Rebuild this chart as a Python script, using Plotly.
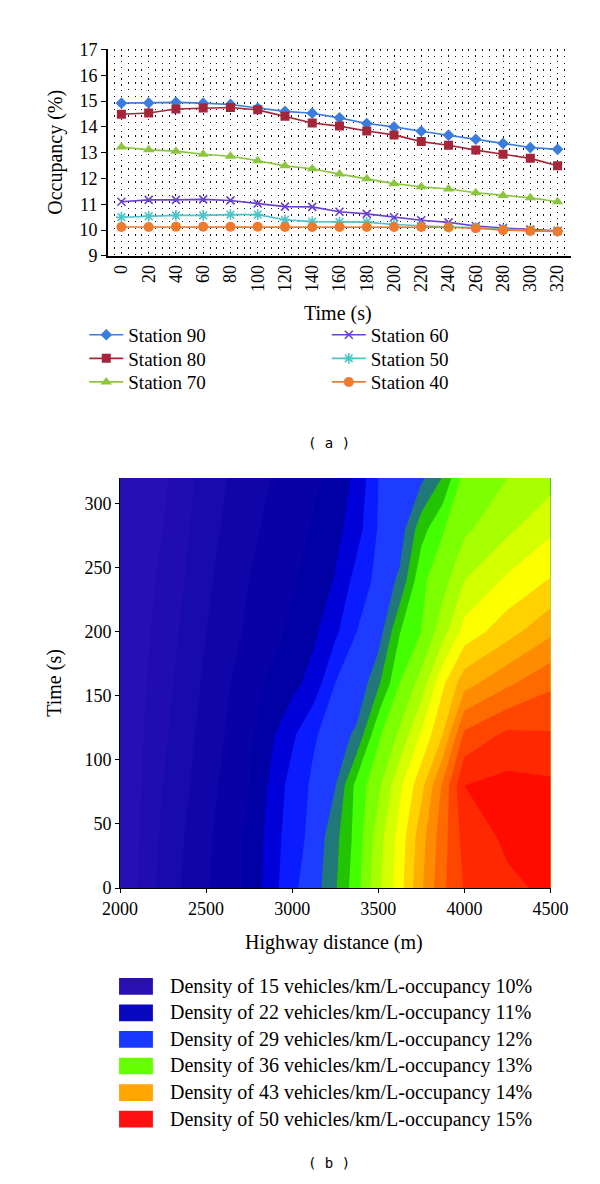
import plotly.graph_objects as go

# ---------------- data: panel (a) ----------------
times = [0, 20, 40, 60, 80, 100, 120, 140, 160, 180, 200, 220, 240, 260, 280, 300, 320]
station_names = ["Station 90", "Station 80", "Station 70", "Station 60", "Station 50", "Station 40"]
s90 = [14.92, 14.93, 14.95, 14.92, 14.87, 14.73, 14.60, 14.53, 14.35, 14.13, 14.00, 13.83, 13.68, 13.52, 13.36, 13.20, 13.13]
s80 = [14.49, 14.54, 14.69, 14.73, 14.75, 14.66, 14.41, 14.15, 14.03, 13.84, 13.69, 13.43, 13.29, 13.10, 12.94, 12.78, 12.49]
s70 = [13.22, 13.11, 13.06, 12.94, 12.86, 12.69, 12.49, 12.38, 12.17, 11.99, 11.80, 11.68, 11.59, 11.45, 11.34, 11.25, 11.10]
s60 = [11.10, 11.17, 11.17, 11.19, 11.15, 11.03, 10.91, 10.90, 10.71, 10.63, 10.50, 10.38, 10.30, 10.16, 10.08, 10.02, 9.97]
s50 = [10.50, 10.54, 10.57, 10.57, 10.60, 10.60, 10.40, 10.33, 10.31, 10.31, 10.22, 10.16, 10.12, 10.10, 10.03, 9.98, 9.96]
s40 = [10.12, 10.12, 10.13, 10.13, 10.13, 10.13, 10.12, 10.12, 10.12, 10.12, 10.12, 10.12, 10.11, 10.07, 10.00, 9.97, 9.95]
station_values = [s90, s80, s70, s60, s50, s40]

# ---------------- data: panel (b) ----------------
distances = [2000, 2250, 2500, 2750, 3000, 3125, 3250, 3375, 3500, 3625, 3750, 3875, 4000, 4250, 4500]
grid_times = [0, 40, 80, 120, 160, 200, 240, 280, 320]
occupancy = [
    [10.00, 10.60, 10.97, 11.31, 11.95, 12.13, 12.47, 12.91, 13.45, 13.90, 14.46, 14.95, 15.27, 15.45, 15.55],
    [10.00, 10.55, 10.95, 11.30, 11.90, 12.07, 12.42, 12.85, 13.38, 13.85, 14.40, 14.90, 15.35, 15.55, 15.60],
    [10.00, 10.50, 10.90, 11.25, 11.85, 12.05, 12.24, 12.84, 13.19, 13.70, 14.17, 14.80, 15.50, 15.58, 15.55],
    [10.00, 10.45, 10.85, 11.20, 11.70, 11.97, 12.12, 12.30, 12.95, 13.30, 13.78, 14.25, 15.05, 15.30, 15.27],
    [10.00, 10.40, 10.80, 11.15, 11.42, 11.60, 12.00, 12.05, 12.45, 13.00, 13.35, 13.95, 14.40, 14.70, 14.95],
    [10.00, 10.35, 10.75, 11.05, 11.30, 11.45, 11.70, 12.00, 12.12, 12.74, 13.00, 13.40, 13.85, 14.15, 14.45],
    [10.00, 10.30, 10.70, 11.00, 11.22, 11.35, 11.52, 11.85, 12.07, 12.30, 12.95, 13.15, 13.50, 13.80, 14.02],
    [10.00, 10.25, 10.65, 10.95, 11.15, 11.28, 11.42, 11.65, 12.02, 12.12, 12.65, 12.98, 13.20, 13.45, 13.70],
    [10.00, 10.20, 10.60, 10.90, 11.10, 11.20, 11.35, 11.56, 12.00, 12.08, 12.20, 12.52, 13.10, 13.25, 13.40],
]
legend_labels = [
    "Density of 15 vehicles/km/L-occupancy 10%",
    "Density of 22 vehicles/km/L-occupancy 11%",
    "Density of 29 vehicles/km/L-occupancy 12%",
    "Density of 36 vehicles/km/L-occupancy 13%",
    "Density of 43 vehicles/km/L-occupancy 14%",
    "Density of 50 vehicles/km/L-occupancy 15%",
]

# ---------------- styles ----------------
SERIF = "Liberation Serif, Times New Roman, serif"
line_colors = ["#3b7ddd", "#a52539", "#8cc63f", "#6a40d2", "#4cc4c8", "#ee7a30"]
symbols = ["diamond", "square", "triangle-up", "x-thin-open", "asterisk-open", "circle"]
sizes = [9, 9, 10, 8, 9, 10]
legend_ids = ["legend", "legend2", "legend3", "legend4", "legend5", "legend6"]
# legend box anchor positions in px (left, row centre)
legend_pos = [(62, 335), (62, 359), (62, 383), (320, 335), (320, 359), (320, 383)]
legend_box_colors = ["#2a10b0", "#0808c0", "#1838ff", "#66ff00", "#ffa500", "#ff1010"]
band_colors = [
    "#2812b6", "#2610b4", "#200cb0", "#180aac", "#1006a8", "#0802a6", "#0000a4",
    "#0000d8", "#0a1cff", "#1e3cff", "#207878", "#22c400", "#44ff00", "#7cff00",
    "#a8ff00", "#d4ff00", "#fcff00", "#ffd200", "#ffae00", "#ff8c00", "#ff6a00",
    "#ff4600", "#ff2800", "#ff0c00",
]
c_start, c_end, c_size = 10.0, 15.5, 0.25
n_levels = int(round((c_end - c_start) / c_size)) + 1
colorscale = [[k / n_levels, c] for k, c in enumerate(band_colors)]

fig = go.Figure()

for name, vals, col, sym, sz, lg in zip(station_names, station_values, line_colors, symbols, sizes, legend_ids):
    open_sym = sym.endswith("open")
    fig.add_trace(go.Scatter(
        x=times, y=vals, name=name, mode="lines+markers",
        line=dict(color=col, width=1.6),
        marker=dict(symbol=sym, size=sz, color=col,
                    line=dict(color=col, width=1.6 if open_sym else 0)),
        legend=lg, showlegend=True, xaxis="x", yaxis="y",
    ))

fig.add_trace(go.Contour(
    x=distances, y=grid_times, z=occupancy,
    xaxis="x2", yaxis="y2",
    autocontour=False,
    contours=dict(start=c_start, end=c_end, size=c_size, coloring="fill", showlines=False),
    line=dict(width=0, smoothing=0),
    colorscale=colorscale, showscale=False, showlegend=False, hoverinfo="skip",
))

tickfont = dict(family=SERIF, size=18, color="black")
legfont = dict(family=SERIF, size=19, color="black")

legends = {}
for lg, (px, py) in zip(legend_ids, legend_pos):
    legends[lg] = dict(x=px / 600, y=1 - (py - 32) / 1184, xanchor="left", yanchor="top",
                       font=legfont, bgcolor="rgba(0,0,0,0)", itemwidth=34, visible=True)

fig.update_layout(
    width=600, height=1184,
    margin=dict(l=0, r=0, t=0, b=0),
    showlegend=True,
    paper_bgcolor="white", plot_bgcolor="white",
    font=dict(family=SERIF, color="black"),
    xaxis=dict(
        domain=[87 / 600, 580 / 600], anchor="y",
        range=[-10, 330], tickmode="linear", tick0=0, dtick=20,
        tickangle=-90, ticks="", tickfont=tickfont,
        showline=True, linecolor="black", linewidth=2,
        showgrid=True, gridcolor="#111111", gridwidth=1.4, griddash="1.4px,4.4px",
        minor=dict(tick0=0, dtick=5, showgrid=True, gridcolor="#111111", gridwidth=1.4,
                   griddash="1.4px,5.2px"),
        zeroline=False,
    ),
    yaxis=dict(
        domain=[1 - 242 / 1184, 1 - 32 / 1184], anchor="x",
        range=[9, 17], dtick=1, ticks="outside", ticklen=5, tickcolor="black",
        tickfont=tickfont, showline=True, linecolor="black", linewidth=1.5,
        showgrid=False, zeroline=False,
    ),
    xaxis2=dict(
        domain=[100 / 600, 558 / 600], anchor="y2",
        range=[2000, 4500], dtick=500, ticks="outside", ticklen=4, tickcolor="black",
        tickfont=tickfont, showline=True, linecolor="black", linewidth=1,
        showgrid=False, zeroline=False,
    ),
    yaxis2=dict(
        domain=[1 - 885 / 1184, 1 - 468 / 1184], anchor="x2",
        range=[0, 320], dtick=50, ticks="outside", ticklen=4, tickcolor="black",
        tickfont=tickfont, showline=True, linecolor="black", linewidth=1,
        showgrid=False, zeroline=False,
    ),
    **legends,
)

annotations = [
    dict(text="Occupancy (%)", x=32 / 600, y=1 - 137 / 1184, textangle=-90,
         font=dict(family=SERIF, size=20)),
    dict(text="Time (s)", x=332 / 600, y=1 - 301 / 1184, font=dict(family=SERIF, size=20)),
    dict(text="( a )", x=322 / 600, y=1 - 432 / 1184, font=dict(family="DejaVu Sans Mono", size=14)),
    dict(text="Time (s)", x=30 / 600, y=1 - 676 / 1184, textangle=-90,
         font=dict(family=SERIF, size=20)),
    dict(text="Highway distance (m)", x=328 / 600, y=1 - 940 / 1184,
         font=dict(family=SERIF, size=20)),
    dict(text="( b )", x=322 / 600, y=1 - 1165 / 1184, font=dict(family="DejaVu Sans Mono", size=14)),
]
shapes = []
for i, (lab, col) in enumerate(zip(legend_labels, legend_box_colors)):
    yc = 985 + 27 * i
    shapes.append(dict(type="rect", xref="paper", yref="paper",
                       x0=99 / 600, x1=135 / 600,
                       y0=1 - (yc + 8.5) / 1184, y1=1 - (yc - 8.5) / 1184,
                       fillcolor=col, line=dict(width=0)))
    annotations.append(dict(text=lab, x=151 / 600, y=1 - yc / 1184, xanchor="left",
                            font=dict(family=SERIF, size=20)))
for a in annotations:
    a.update(xref="paper", yref="paper", showarrow=False)
    a.setdefault("xanchor", "center")
    a.setdefault("yanchor", "middle")

fig.update_layout(annotations=annotations, shapes=shapes)
fig.write_html("out.html")
